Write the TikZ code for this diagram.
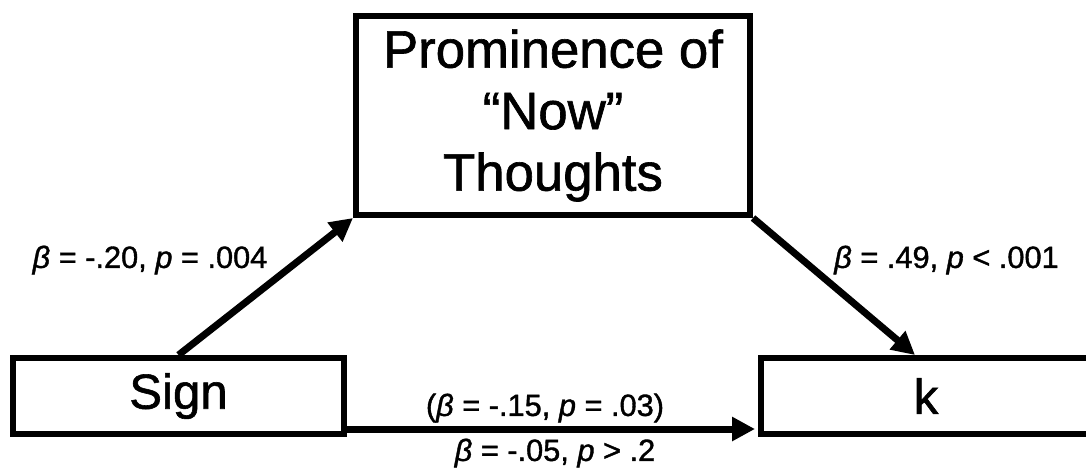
\documentclass[tikz,border=0pt]{standalone}
\usepackage{fontspec}
\setmainfont{Liberation Sans}[FakeBold=1.2]
\usepackage{tikz}
\usetikzlibrary{positioning,arrows.meta,calc}

\begin{document}
\begin{tikzpicture}[
  box/.style={draw, line width=0.12cm, align=center, inner sep=0pt,
              font=\fontsize{28}{34}\selectfont},
  arr/.style={-{Triangle[length=0.46cm,width=0.46cm]}, line width=0.14cm},
  lab/.style={font=\fontsize{17.5}{20}\selectfont, inner sep=0pt}
]
\useasboundingbox (0,0) rectangle (21.72,9.46);

%% boxes
\node[box, minimum width=7.88cm, minimum height=3.98cm,
      font=\fontsize{30}{35}\selectfont] (med) at (11.06,7.15)
      {Prominence of\\“Now”\\Thoughts};
\node[box, minimum width=6.62cm, minimum height=1.52cm] (sign) at (3.57,1.54) {Sign};
\node[box, minimum width=6.60cm, minimum height=1.52cm] (k)    at (18.52,1.54) {k};

%% paths
\draw[arr] (sign.north) -- (med.south west);
\draw[arr] (med.south east) -- ([xshift=-0.22cm]k.north);
\draw[arr] ([yshift=-0.66cm]sign.east) -- ([xshift=-0.06cm,yshift=-0.66cm]k.west);

%% coefficients
\node[lab] (a)  at (3.00,4.26)  {\textit{β} = -.20, \textit{p} = .004};
\node[lab] (b)  at (18.93,4.26) {\textit{β} = .49, \textit{p} < .001};
\node[lab] (c1) at (10.90,1.30) {(\textit{β} = -.15, \textit{p} = .03)};
\node[lab] (c2) at (11.10,0.40) {\textit{β} = -.05, \textit{p} > .2};
\end{tikzpicture}
\end{document}
